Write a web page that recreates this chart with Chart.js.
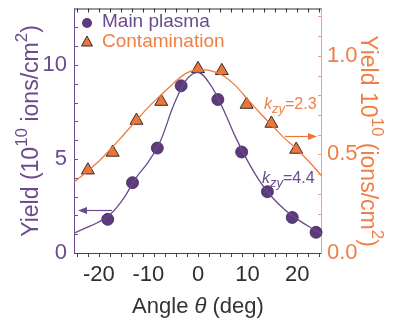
<!DOCTYPE html>
<html>
<head>
<meta charset="utf-8">
<script src="https://cdn.jsdelivr.net/npm/chart.js@4"></script>
<style>
  html, body { margin: 0; padding: 0; background: #fff; }
  #wrap { width: 393px; height: 324px; }
</style>
</head>
<body>
<div id="wrap"><canvas id="yieldChart" width="393" height="324"></canvas></div>
<script>
// measured yields vs. angle
const mainAngles = [-18.2, -13.2, -8.2, -3.4, 4, 8.8, 14, 19, 23.8];
const mainYield = [1.79, 3.74, 5.58, 8.89, 8.16, 5.37, 3.26, 1.89, 1.1];

const contAngles = [-22.2, -17.2, -12.4, -7.4, 0, 4.8, 9.8, 14.8, 19.8];
const contYield = [0.42, 0.51, 0.672, 0.768, 0.934, 0.924, 0.753, 0.657, 0.525];

// fitted curves
const fitAngles = [-25, -22.5, -20, -17.5, -15, -12.5, -10, -7.5, -5, -2.5, 0, 2.5, 5, 7.5, 10, 12.5, 15, 17.5, 20, 22.5, 25];
const mainFit = [1.05, 1.35, 1.65, 2.1, 2.9, 4.0, 4.85, 6.0, 7.8, 9.15, 9.6, 8.95, 7.7, 6.2, 4.9, 3.8, 2.95, 2.3, 1.8, 1.38, 1.02];
const contFit = [0.36, 0.41, 0.465, 0.53, 0.6, 0.67, 0.74, 0.8, 0.86, 0.91, 0.93, 0.925, 0.9, 0.85, 0.78, 0.71, 0.645, 0.58, 0.525, 0.46, 0.39];

// labelled ticks
const angleTicks = [-20, -10, 0, 10, 20];
const mainTicks = [0, 5, 10];
const contTicks = [0, 0.5, 1.0];

const purple = '#5c3b7c';
const purpleText = '#6b4b8d';
const orange = '#ea7639';
const orangeText = '#f07f45';

const toPoints = (xs, ys) => xs.map((x, i) => ({ x: x, y: ys[i] }));

function drawRuns(ctx, runs, x, y) {
    let cx = x;
    runs.forEach(r => {
        ctx.font = r.font;
        ctx.fillText(r.text, cx, y + (r.dy || 0));
        cx += ctx.measureText(r.text).width;
    });
    return cx - x;
}

function runsWidth(ctx, runs) {
    let w = 0;
    runs.forEach(r => { ctx.font = r.font; w += ctx.measureText(r.text).width; });
    return w;
}

const ff = '"Liberation Sans", Arial, sans-serif';

const framePlugin = {
    id: 'frame',
    beforeDatasetsDraw(chart) {
        const ctx = chart.ctx;
        const a = chart.chartArea;
        const xs = chart.scales.x, ys = chart.scales.y, y2 = chart.scales.y2;
        ctx.save();
        ctx.lineWidth = 1;

        // top
        ctx.strokeStyle = '#333';
        ctx.beginPath(); ctx.moveTo(a.left, a.top + 0.5); ctx.lineTo(a.right, a.top + 0.5); ctx.stroke();
        // bottom
        ctx.strokeStyle = '#4d3a60';
        ctx.beginPath(); ctx.moveTo(a.left, a.bottom + 0.5); ctx.lineTo(a.right, a.bottom + 0.5); ctx.stroke();

        // x ticks, nine minor divisions per 20 deg
        for (let i = -11; i <= 11; i++) {
            const px = Math.round(xs.getPixelForValue(i * 20 / 9)) + 0.5;
            ctx.strokeStyle = '#333';
            ctx.beginPath(); ctx.moveTo(px, a.top); ctx.lineTo(px, a.top + 4); ctx.stroke();
            ctx.strokeStyle = '#4d3a60';
            ctx.beginPath(); ctx.moveTo(px, a.bottom); ctx.lineTo(px, a.bottom + 4); ctx.stroke();
        }

        // left axis
        ctx.strokeStyle = purpleText;
        ctx.beginPath(); ctx.moveTo(a.left + 0.5, a.top); ctx.lineTo(a.left + 0.5, a.bottom + 1); ctx.stroke();
        for (let v = 1; v <= 12; v++) {
            const py = Math.round(ys.getPixelForValue(v)) + 0.5;
            ctx.beginPath(); ctx.moveTo(a.left, py); ctx.lineTo(a.left + 4, py); ctx.stroke();
        }

        // right axis
        ctx.strokeStyle = '#f2a374';
        ctx.beginPath(); ctx.moveTo(a.right - 0.5, a.top); ctx.lineTo(a.right - 0.5, a.bottom + 1); ctx.stroke();
        for (let k = 1; k <= 12; k++) {
            const py = Math.round(y2.getPixelForValue(k / 10)) + 0.5;
            ctx.beginPath(); ctx.moveTo(a.right, py); ctx.lineTo(a.right - 4, py); ctx.stroke();
        }
        ctx.restore();
    },
    afterDraw(chart) {
        const ctx = chart.ctx;
        ctx.save();
        ctx.textBaseline = 'alphabetic';
        ctx.textAlign = 'left';

        // legend
        ctx.fillStyle = purple;
        ctx.beginPath(); ctx.arc(87, 23, 5, 0, Math.PI * 2); ctx.fill();
        ctx.fillStyle = purpleText;
        ctx.font = '19px ' + ff;
        ctx.fillText('Main plasma', 102, 27);

        ctx.fillStyle = orange;
        ctx.strokeStyle = '#3a2a2a';
        ctx.lineWidth = 1;
        ctx.beginPath();
        ctx.moveTo(87, 36); ctx.lineTo(92.5, 46); ctx.lineTo(81.5, 46); ctx.closePath();
        ctx.fill(); ctx.stroke();
        ctx.fillStyle = orangeText;
        ctx.fillText('Contamination', 102, 47);

        // fit labels
        const kRuns = (val) => [
            { text: 'k', font: 'italic 16px ' + ff },
            { text: 'zy', font: 'italic 13px ' + ff, dy: 4 },
            { text: '=' + val, font: '16px ' + ff }
        ];
        ctx.fillStyle = orangeText;
        drawRuns(ctx, kRuns('2.3'), 264, 109);
        ctx.fillStyle = purpleText;
        drawRuns(ctx, kRuns('4.4'), 262, 183);

        // arrows pointing to each axis
        ctx.lineWidth = 1.2;
        ctx.strokeStyle = orange; ctx.fillStyle = orange;
        ctx.beginPath(); ctx.moveTo(285, 136.5); ctx.lineTo(310, 136.5); ctx.stroke();
        ctx.beginPath(); ctx.moveTo(317, 136.5); ctx.lineTo(308, 133); ctx.lineTo(308, 140); ctx.closePath(); ctx.fill();
        ctx.strokeStyle = purpleText; ctx.fillStyle = purpleText;
        ctx.beginPath(); ctx.moveTo(112, 210.5); ctx.lineTo(85, 210.5); ctx.stroke();
        ctx.beginPath(); ctx.moveTo(78, 210.5); ctx.lineTo(87, 207); ctx.lineTo(87, 214); ctx.closePath(); ctx.fill();

        // x title
        ctx.fillStyle = '#333';
        const xRuns = [
            { text: 'Angle ', font: '22px ' + ff },
            { text: 'θ', font: 'italic 22px ' + ff },
            { text: ' (deg)', font: '22px ' + ff }
        ];
        const xw = runsWidth(ctx, xRuns);
        drawRuns(ctx, xRuns, 198 - xw / 2, 313);

        // left title
        const lRuns = [
            { text: 'Yield (10', font: '23px ' + ff },
            { text: '10', font: '17px ' + ff, dy: -11 },
            { text: ' ions/cm', font: '23px ' + ff },
            { text: '2', font: '17px ' + ff, dy: -11 },
            { text: ')', font: '23px ' + ff }
        ];
        ctx.fillStyle = purpleText;
        const lw = runsWidth(ctx, lRuns);
        ctx.save();
        ctx.translate(38, 131);
        ctx.rotate(-Math.PI / 2);
        drawRuns(ctx, lRuns, -lw / 2, 0);
        ctx.restore();

        // right title
        const rRuns = [
            { text: 'Yield 10', font: '23px ' + ff },
            { text: '10', font: '17px ' + ff, dy: -11 },
            { text: ' (ions/cm', font: '23px ' + ff },
            { text: '2', font: '17px ' + ff, dy: -11 },
            { text: ')', font: '23px ' + ff }
        ];
        ctx.fillStyle = orangeText;
        const rw = runsWidth(ctx, rRuns);
        ctx.save();
        ctx.translate(361, 141);
        ctx.rotate(Math.PI / 2);
        drawRuns(ctx, rRuns, -rw / 2, 0);
        ctx.restore();

        ctx.restore();
    }
};

// keep label overhang from shrinking the plot area
const fixTicks = (vals) => (s) => { s.ticks = vals.map(v => ({ value: v })); };

const ctxYield = document.getElementById('yieldChart').getContext('2d');
const yieldChart = new Chart(ctxYield, {

    type: 'line',

    data: {
        datasets: [
            {
                label: 'Main plasma fit',
                data: toPoints(fitAngles, mainFit),
                yAxisID: 'y',
                borderColor: '#6a4a8c',
                borderWidth: 1.3,
                pointRadius: 0,
                cubicInterpolationMode: 'monotone'
            },
            {
                label: 'Contamination fit',
                data: toPoints(fitAngles, contFit),
                yAxisID: 'y2',
                borderColor: '#ee7a3c',
                borderWidth: 1.3,
                pointRadius: 0,
                cubicInterpolationMode: 'monotone'
            },
            {
                label: 'Main plasma',
                data: toPoints(mainAngles, mainYield),
                yAxisID: 'y',
                showLine: false,
                pointStyle: 'circle',
                pointRadius: 6,
                backgroundColor: purple,
                borderColor: '#3e2558',
                borderWidth: 0.8,
                clip: false
            },
            {
                label: 'Contamination',
                data: toPoints(contAngles, contYield),
                yAxisID: 'y2',
                showLine: false,
                pointStyle: 'triangle',
                pointRadius: 7.5,
                backgroundColor: orange,
                borderColor: '#3a2a2a',
                borderWidth: 1,
                clip: false
            }
        ]
    },

    options: {
        responsive: false,
        animation: false,
        layout: { padding: { top: 7, left: 0, right: 0, bottom: 0 } },
        plugins: {
            legend: { display: false },
            tooltip: { enabled: false }
        },
        scales: {
            x: {
                type: 'linear',
                min: -25,
                max: 25,
                grid: { display: false, drawTicks: false },
                border: { display: false },
                ticks: {
                    padding: 9,
                    color: '#2e2e2e',
                    font: { family: ff, size: 22 }
                },
                afterBuildTicks: fixTicks(angleTicks),
                afterFit: (s) => { s.height = 71; s.paddingLeft = 0; s.paddingRight = 0; }
            },
            y: {
                position: 'left',
                min: 0,
                max: 13,
                grid: { display: false, drawTicks: false },
                border: { display: false },
                ticks: {
                    padding: 7,
                    color: purpleText,
                    font: { family: ff, size: 22 }
                },
                afterBuildTicks: fixTicks(mainTicks),
                afterFit: (s) => { s.width = 74; s.paddingTop = 0; s.paddingBottom = 0; }
            },
            y2: {
                position: 'right',
                min: 0,
                max: 1.24,
                grid: { display: false, drawTicks: false },
                border: { display: false },
                ticks: {
                    padding: 5,
                    color: orangeText,
                    font: { family: ff, size: 22 },
                    callback: (v) => v.toFixed(1)
                },
                afterBuildTicks: fixTicks(contTicks),
                afterFit: (s) => { s.width = 71; s.paddingTop = 0; s.paddingBottom = 0; }
            }
        }
    },

    plugins: [framePlugin]
});
</script>
</body>
</html>
